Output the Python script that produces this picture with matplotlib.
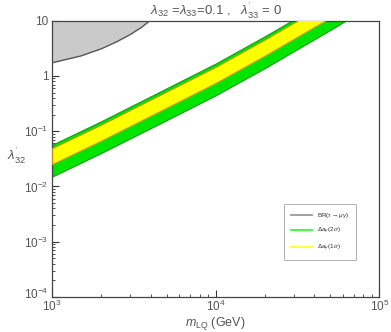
import numpy as np
import matplotlib
matplotlib.use("Agg")
import matplotlib.pyplot as plt
import matplotlib.transforms as mtransforms
from matplotlib.ticker import FixedLocator, FuncFormatter, LogLocator, NullFormatter
from matplotlib.lines import Line2D

# ---- data ----
m_band = [1e3, 2e3, 5e3, 1e4, 2e4, 5e4, 1e5]           # GeV
green_top = [0.0569, 0.152, 0.596, 1.68, 5.24, 25.4, 87.1]
yellow_top = [0.0495, 0.132, 0.519, 1.46, 4.56, 22.1, 75.9]
yellow_bot = [0.0254, 0.0679, 0.266, 0.750, 2.34, 11.3, 38.9]
green_bot = [0.0151, 0.0405, 0.158, 0.447, 1.39, 6.75, 23.2]

m_br = [1000, 1500, 2000, 2500, 3000, 3500, 4000]
br_bound = [1.73, 2.3, 3.1, 4.2, 5.6, 7.5, 10.2]

x_ticks = [1e3, 1e4, 1e5]
y_ticks = [1e-4, 1e-3, 1e-2, 1e-1, 1, 10]
legend_labels = [r"BR($\tau\to\mu\gamma$)", r"$\Delta a_\mu(2\,\sigma)$", r"$\Delta a_\mu(1\,\sigma)$"]

plt.rcParams['font.family'] = ['Liberation Sans', 'DejaVu Sans']
plt.rcParams['mathtext.fontset'] = 'custom'
plt.rcParams['mathtext.rm'] = 'Liberation Sans'
plt.rcParams['mathtext.it'] = 'Liberation Sans:italic'
plt.rcParams['mathtext.bf'] = 'Liberation Sans:bold'

txt = '#555555'
fig = plt.figure(figsize=(3.91, 3.32), dpi=100)
ax = fig.add_axes([0.1335, 0.1055, 0.8365, 0.8322])
ax.set_xscale('log')
ax.set_yscale('log')
ax.set_xlim(1e3, 1e5)
ax.set_ylim(1e-4, 10)

green = '#00E400'
yellow = '#FFFF00'
ax.fill_between(m_band, green_bot, green_top, facecolor=green, edgecolor='#1a9a1a', linewidth=0.8, zorder=2)
ax.fill_between(m_band, yellow_bot, yellow_top, facecolor=yellow, edgecolor='#c89a00', linewidth=0.8, zorder=3)

ax.fill_between(m_br, br_bound, [10] * len(m_br), facecolor='#cacaca', edgecolor='none', zorder=2)
ax.plot(m_br, br_bound, color='#555555', lw=1.0, zorder=4)

ax.xaxis.set_major_locator(FixedLocator(x_ticks))
ax.yaxis.set_major_locator(FixedLocator(y_ticks))
ax.xaxis.set_minor_locator(LogLocator(base=10, subs=np.arange(2, 10), numticks=20))
ax.yaxis.set_minor_locator(LogLocator(base=10, subs=np.arange(2, 10), numticks=20))
ax.xaxis.set_minor_formatter(NullFormatter())
ax.yaxis.set_minor_formatter(NullFormatter())

def fmt(v, pos):
    e = int(round(np.log10(v)))
    if e == 0:
        return "1"
    if e == 1:
        return "10"
    return r"$10^{%d}$" % e

ax.xaxis.set_major_formatter(FuncFormatter(fmt))
ax.yaxis.set_major_formatter(FuncFormatter(fmt))

ax.tick_params(which='both', direction='in', top=False, right=False, colors='#333333',
               labelcolor=txt, labelsize=8.5)
ax.tick_params(which='major', length=5, width=0.8)
ax.tick_params(axis='x', which='major', pad=1.5)
ax.tick_params(axis='y', which='major', pad=2.5)
ax.tick_params(which='minor', length=2.5, width=0.6)
for s in ax.spines.values():
    s.set_color('#444444')
    s.set_linewidth(0.9)

# raise the lowest y label slightly so it clears the 10^3 label
fig.canvas.draw()
lowest = ax.yaxis.get_major_ticks()[0].label1
lowest.set_transform(lowest.get_transform() +
                     mtransforms.ScaledTranslation(0, 3 / 72, fig.dpi_scale_trans))

ax.set_title(r"$\lambda_{32}$ =$\lambda_{33}$=0.1 ,   $\lambda^{'}_{33}$ = 0", color=txt, fontsize=9.5, pad=3)
ax.set_xlabel(r"$m_{\rm LQ}$ (GeV)", color=txt, fontsize=9)
ax.xaxis.set_label_coords(0.5, -0.066)
ax.set_ylabel(r"$\lambda^{'}_{32}$", color=txt, fontsize=9.5, rotation=0)
ax.yaxis.set_label_coords(-0.11, 0.475)

handles = [Line2D([], [], color='#999999', lw=1.3),
           Line2D([], [], color='#33ff33', lw=1.3),
           Line2D([], [], color='#ffff33', lw=1.3)]
leg = ax.legend(handles, legend_labels, loc='upper left', bbox_to_anchor=(0.709, 0.337),
                fontsize=4.6, frameon=True, fancybox=True, handlelength=3.2,
                borderpad=1.1, labelspacing=1.0, handletextpad=0.8, borderaxespad=0)
leg.get_frame().set_edgecolor('#888888')
leg.get_frame().set_linewidth(0.6)
for t in leg.get_texts():
    t.set_color('#333333')

fig.savefig("out.png", dpi=100)
